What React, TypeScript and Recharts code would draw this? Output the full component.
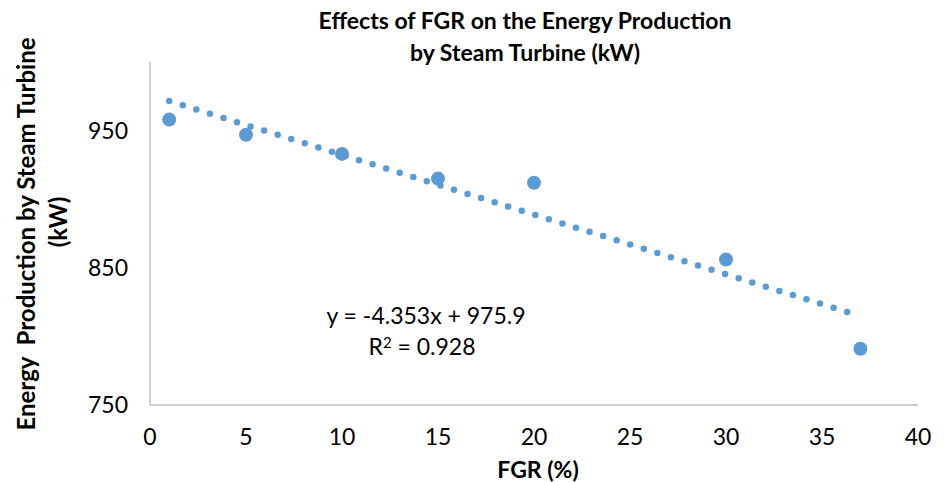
import { ComposedChart, Scatter, XAxis, YAxis } from "recharts";

// FGR (%) measured points and steam turbine output (kW)
const fgrValues = [1, 5, 10, 15, 20, 30, 37];
const energyValues = [958, 947, 933, 915, 912, 856, 791];

// linear trendline endpoints
const trendX = [1, 37];
const trendY = [971.5, 814.8];

const xTicks = [0, 5, 10, 15, 20, 25, 30, 35, 40];
const yTicks = [750, 850, 950];

const BLUE = "#5B9BD5";
const AXIS = "#BFBFBF";
const FONT = "Lato, 'Open Sans', sans-serif";

const points = fgrValues.map((x, i) => ({ x, y: energyValues[i] }));
const trend = trendX.map((x, i) => ({ x, y: trendY[i] }));

function YTitle() {
  return (
    <g fontFamily={FONT} fontWeight={700} fontSize={24} fill="#000">
      <text x={25} y={234} textAnchor="middle" dominantBaseline="central" transform="rotate(-90, 25, 234)">
        {"Energy\u00a0 Production by Steam Turbine"}
      </text>
      <text x={57} y={222} textAnchor="middle" dominantBaseline="central" transform="rotate(-90, 57, 222)">
        (kW)
      </text>
    </g>
  );
}

export default function App() {
  return (
    <div style={{ position: "absolute", left: 0, top: 0, width: 944, height: 482, background: "#fff", fontFamily: FONT }}>
      <div
        style={{
          position: "absolute",
          left: 0,
          width: 1050,
          top: 4,
          textAlign: "center",
          fontWeight: 700,
          fontSize: 23,
          lineHeight: "32px",
        }}
      >
        Effects of FGR on the Energy Production
        <br />
        by Steam Turbine (kW)
      </div>
      <ComposedChart width={944} height={482} margin={{ top: 62, right: 26, bottom: 0, left: 0 }}>
        <XAxis
          type="number"
          dataKey="x"
          domain={[0, 40]}
          ticks={xTicks}
          interval={0}
          height={77}
          stroke={AXIS}
          strokeWidth={1.5}
          tickLine={false}
          tickSize={0}
          tickMargin={24}
          tick={{ fill: "#000", fontSize: 23, fontFamily: FONT }}
          label={{ value: "FGR (%)", position: "insideBottom", offset: 4, fill: "#000", fontSize: 23, fontWeight: 700, fontFamily: FONT, dx: 4 }}
        />
        <YAxis
          type="number"
          dataKey="y"
          domain={[750, 1000]}
          ticks={yTicks}
          interval={0}
          width={150}
          stroke={AXIS}
          strokeWidth={1.5}
          tickLine={false}
          tickSize={0}
          tickMargin={22}
          tick={{ fill: "#000", fontSize: 23, fontFamily: FONT }}
          label={<YTitle />}
        />
        <Scatter
          data={trend}
          fill="none"
          line={{ stroke: BLUE, strokeWidth: 6.5, strokeDasharray: "0 14.2", strokeLinecap: "round" }}
          shape={() => <g />}
          isAnimationActive={false}
        />
        <Scatter data={points} fill={BLUE} shape={(p: any) => <circle cx={p.cx} cy={p.cy} r={7} fill={BLUE} />} isAnimationActive={false} />
      </ComposedChart>
      <div style={{ position: "absolute", left: 276, width: 300, top: 300, textAlign: "center", fontSize: 23, lineHeight: "31px" }}>
        y = -4.353x + 975.9
        <br />
        <span style={{ marginLeft: -8 }}>
          R<sup style={{ fontSize: 15, verticalAlign: "7px", lineHeight: 0 }}>2</sup> = 0.928
        </span>
      </div>
    </div>
  );
}
